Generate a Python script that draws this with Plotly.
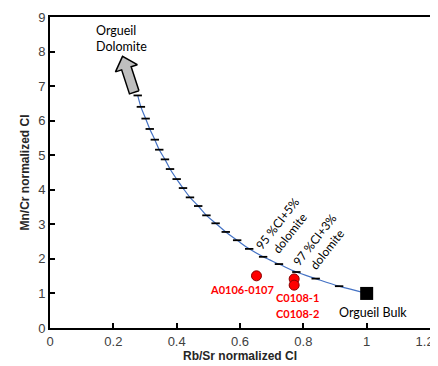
import math
import plotly.graph_objects as go

# Mixing curve marks (1%..22% dolomite added to Orgueil bulk)
mix_x = [1.0, 0.913, 0.839, 0.778, 0.723, 0.673, 0.629, 0.591, 0.555, 0.523, 0.494, 0.468,
         0.442, 0.420, 0.400, 0.379, 0.363, 0.345, 0.331, 0.315, 0.302, 0.287, 0.277]
mix_y = [1.0, 1.21, 1.43, 1.62, 1.85, 2.06, 2.29, 2.54, 2.78, 3.03, 3.26, 3.53,
         3.78, 4.05, 4.31, 4.60, 4.88, 5.16, 5.45, 5.76, 6.06, 6.40, 6.73]

sample_names = ["A0106-0107", "C0108-1", "C0108-2"]
sample_x = [0.652, 0.771, 0.771]
sample_y = [1.51, 1.42, 1.24]

bulk_x = [1.0]
bulk_y = [1.0]

arrow_start = (0.266, 6.82)
arrow_end = (0.229, 7.86)

x_ticks = [0, 0.2, 0.4, 0.6, 0.8, 1, 1.2]
x_tick_labels = ["0", "0.2", "0.4", "0.6", "0.8", "1", "1.2\u00a0\u00a0\u00a0"]
y_ticks = [0, 1, 2, 3, 4, 5, 6, 7, 8, 9]

# page body has an 8px margin, so the figure is sized/offset to compensate
W, H = 438, 358
ML, MR, MT, MB = 42, 16, 9, 38
XR = (0, 1.2)
YR = (0, 9)
sx = (W - ML - MR) / (XR[1] - XR[0])
sy = (H - MT - MB) / (YR[1] - YR[0])

x0, y0 = arrow_start[0] * sx, arrow_start[1] * sy
x1, y1 = arrow_end[0] * sx, arrow_end[1] * sy
L = math.hypot(x1 - x0, y1 - y0)
ux, uy = (x1 - x0) / L, (y1 - y0) / L
px, py = -uy, ux
hw, hhw, hl = 5.0, 11.5, 12.5
pts = [(-hw, 0), (-hw, L - hl), (-hhw, L - hl), (0, L), (hhw, L - hl), (hw, L - hl), (hw, 0), (-hw, 0)]
poly_x = [(x0 + ux * a + px * b) / sx for b, a in pts]
poly_y = [(y0 + uy * a + py * b) / sy for b, a in pts]

fig = go.Figure()
fig.add_trace(go.Scatter(x=mix_x, y=mix_y, mode="lines", line=dict(color="#4472C4", width=1.2, shape="spline"),
                         hoverinfo="skip", showlegend=False))
fig.add_trace(go.Scatter(x=mix_x[1:], y=mix_y[1:], mode="markers",
                         marker=dict(symbol="line-ew", size=6, line=dict(color="black", width=1.8)),
                         showlegend=False))
fig.add_trace(go.Scatter(x=poly_x, y=poly_y, mode="lines", fill="toself", fillcolor="#BFBFBF",
                         line=dict(color="black", width=1.5), showlegend=False, hoverinfo="skip"))
fig.add_trace(go.Scatter(x=bulk_x, y=bulk_y, mode="markers",
                         marker=dict(symbol="square", size=13, color="black"), showlegend=False))
fig.add_trace(go.Scatter(x=sample_x, y=sample_y, mode="markers",
                         marker=dict(symbol="circle", size=10, color="#FF0000", line=dict(color="#8B0000", width=1)),
                         showlegend=False))

lab_font = dict(family="Lato, Open Sans, sans-serif", size=12.5, color="black")
rot_font = dict(family="Lato, Open Sans, sans-serif", size=12, color="black")
red_font = dict(family="Lato, Open Sans, sans-serif", size=11, color="#FF0000")
ann = [
    dict(x=0.226, y=8.39, text="Orgueil<br>Dolomite", font=lab_font, align="left"),
    dict(x=1.021, y=0.45, text="Orgueil Bulk", font=lab_font),
    dict(x=0.607, y=1.12, text="<b>A0106-0107</b>", font=red_font),
    dict(x=0.781, y=0.88, text="<b>C0108-1</b>", font=red_font),
    dict(x=0.781, y=0.43, text="<b>C0108-2</b>", font=red_font),
    dict(x=0.738, y=2.88, text="95 %CI+5%<br>dolomite", font=rot_font, textangle=-52),
    dict(x=0.856, y=2.42, text="97 %CI+3%<br>dolomite", font=rot_font, textangle=-52),
]
for a in ann:
    fig.add_annotation(showarrow=False, xref="x", yref="y", **a)

axis_common = dict(showgrid=False, zeroline=False, showline=True, linecolor="black", linewidth=2,
                   mirror=True, ticks="inside", ticklen=5, tickwidth=1.5, tickcolor="black", automargin=False,
                   ticklabeloverflow="allow",
                   tickfont=dict(family="Liberation Sans, Arial, sans-serif", size=13, color="#404040"))
fig.update_xaxes(range=list(XR), tickvals=x_ticks, ticktext=x_tick_labels,
                 title=dict(text="<b>Rb/Sr normalized CI</b>", standoff=2,
                            font=dict(family="Liberation Sans, Arial, sans-serif", size=12, color="#262626")),
                 **axis_common)
fig.update_yaxes(range=list(YR), tickvals=y_ticks,
                 title=dict(text="<b>Mn/Cr normalized CI</b>", standoff=6,
                            font=dict(family="Liberation Sans, Arial, sans-serif", size=12, color="#262626")),
                 **axis_common)
fig.update_layout(width=W, height=H, margin=dict(l=ML, r=MR, t=MT, b=MB),
                  plot_bgcolor="white", paper_bgcolor="white")
fig.write_html("out.html")
